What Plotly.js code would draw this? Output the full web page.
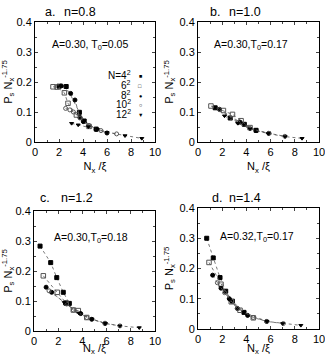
<!DOCTYPE html>
<html>
<head>
<meta charset="utf-8">
<script src="https://cdn.plot.ly/plotly-3.0.1.min.js"></script>
<style>
  body { margin: 0; padding: 0; background: #fff; }
  #plot { width: 325px; height: 356px; }
</style>
</head>
<body>
<div id="plot"></div>
<script>
// lattice sizes shown in the legend
var sizes = ["4", "6", "8", "10", "12"];

// panel a, n=0.8
var a4x = [2.0, 2.6, 3.7, 4.1, 5.1];
var a4y = [0.186, 0.185, 0.099, 0.070, 0.043];
var a6x = [1.5, 1.85, 2.45, 2.75, 3.45, 4.5];
var a6y = [0.184, 0.183, 0.164, 0.129, 0.090, 0.052];
var a8x = [2.2, 2.97, 3.33, 3.75, 4.03, 5.1, 6.0];
var a8y = [0.187, 0.162, 0.140, 0.082, 0.068, 0.042, 0.030];
var a10x = [2.55, 2.9, 3.2, 3.75, 4.5, 5.5, 6.8];
var a10y = [0.112, 0.107, 0.100, 0.080, 0.055, 0.038, 0.027];
var a12x = [3.05, 3.6, 4.45, 5.2, 6.0, 7.5, 8.9];
var a12y = [0.062, 0.057, 0.051, 0.042, 0.032, 0.021, 0.012];

// panel b, n=1.0
var b4x = [1.42, 2.66, 3.83, 4.8];
var b4y = [0.114, 0.080, 0.059, 0.039];
var b6x = [1.07, 2.1, 2.85, 3.56, 4.3];
var b6y = [0.120, 0.105, 0.092, 0.071, 0.048];
var b8x = [1.78, 3.48, 4.8, 5.86];
var b8y = [0.109, 0.066, 0.038, 0.029];
var b10x = [1.78, 3.3, 4.3, 5.86, 7.18];
var b10y = [0.108, 0.065, 0.045, 0.029, 0.019];
var b12x = [2.19, 3.3, 4.3, 5.8, 7.2, 8.6];
var b12y = [0.087, 0.062, 0.044, 0.028, 0.018, 0.012];

// panel c, n=1.2
var c4x = [0.5, 1.38, 1.88, 2.42, 2.92];
var c4y = [0.283, 0.228, 0.178, 0.129, 0.092];
var c6x = [0.77, 1.92, 2.64, 3.25, 3.66, 4.36];
var c6y = [0.184, 0.129, 0.094, 0.070, 0.068, 0.045];
var c8x = [1.0, 1.46, 2.6, 3.86, 4.77, 5.87];
var c8y = [0.146, 0.129, 0.092, 0.058, 0.039, 0.025];
var c10x = [1.24, 2.7, 3.25, 4.36, 5.87, 7.1];
var c10y = [0.134, 0.090, 0.070, 0.045, 0.026, 0.017];
var c12x = [2.5, 3.7, 4.8, 5.9, 7.1, 8.7];
var c12y = [0.095, 0.060, 0.040, 0.025, 0.017, 0.011];

// panel d, n=1.4
var d4x = [0.72, 1.26, 1.82, 2.29, 2.84, 3.8];
var d4y = [0.300, 0.235, 0.170, 0.125, 0.092, 0.055];
var d6x = [0.91, 1.9, 2.75, 3.47, 4.57];
var d6y = [0.220, 0.148, 0.090, 0.062, 0.037];
var d8x = [1.21, 1.9, 2.59, 3.25, 4.1, 5.68];
var d8y = [0.178, 0.135, 0.100, 0.068, 0.045, 0.025];
var d10x = [1.6, 2.2, 3.25, 4.57, 5.68, 7.05];
var d10y = [0.153, 0.120, 0.068, 0.038, 0.025, 0.018];
var d12x = [2.59, 3.8, 5.7, 7.0, 8.5];
var d12y = [0.097, 0.055, 0.025, 0.018, 0.012];

var W = 325, H = 356;
function px(v) { return v / W; }
function py(v) { return 1 - v / H; }

var styles = [
  {symbol: "square", color: "#000", size: 4},
  {symbol: "square-open", color: "#555", size: 4.5},
  {symbol: "circle", color: "#000", size: 4},
  {symbol: "circle-open", color: "#555", size: 4},
  {symbol: "triangle-down", color: "#000", size: 3.5}
];

function series(xs, ys, k, ax) {
  return {
    x: xs, y: ys, type: "scatter", mode: "lines+markers",
    xaxis: "x" + ax, yaxis: "y" + ax, showlegend: false,
    line: {color: "#555", width: 0.8, dash: "dot"},
    marker: {symbol: styles[k].symbol, size: styles[k].size, color: styles[k].color,
             line: {color: styles[k].color, width: 1}}
  };
}

var panels = [
  [[a4x, a4y], [a6x, a6y], [a8x, a8y], [a10x, a10y], [a12x, a12y]],
  [[b4x, b4y], [b6x, b6y], [b8x, b8y], [b10x, b10y], [b12x, b12y]],
  [[c4x, c4y], [c6x, c6y], [c8x, c8y], [c10x, c10y], [c12x, c12y]],
  [[d4x, d4y], [d6x, d6y], [d8x, d8y], [d10x, d10y], [d12x, d12y]]
];

var data = [];
panels.forEach(function (p, i) {
  var ax = i === 0 ? "" : String(i + 1);
  p.forEach(function (s, k) { data.push(series(s[0], s[1], k, ax)); });
});

var font = "Liberation Sans, Arial, sans-serif";

function xax(d0, d1, anchor) {
  return {
    domain: [px(d0), px(d1)], anchor: anchor, range: [0, 10], dtick: 2,
    ticklabeloverflow: "allow",
    ticks: "inside", ticklen: 3, mirror: "ticks", showline: true, linecolor: "#000",
    linewidth: 1, showgrid: false, zeroline: false,
    minor: {dtick: 1, ticks: "inside", ticklen: 2, showgrid: false},
    tickfont: {size: 11, color: "#000"},
    title: {text: "N<sub>x</sub> /ξ", font: {size: 11, color: "#000"}, standoff: 5}
  };
}
function yax(d0, d1, anchor) {
  return {
    domain: [py(d1), py(d0)], anchor: anchor, range: [0, 0.4], dtick: 0.1,
    ticklabeloverflow: "allow",
    ticks: "inside", ticklen: 3, mirror: "ticks", showline: true, linecolor: "#000",
    linewidth: 1, showgrid: false, zeroline: false,
    minor: {dtick: 0.05, ticks: "inside", ticklen: 2, showgrid: false},
    tickfont: {size: 11, color: "#000"},
    title: {text: "P<sub>s</sub> N<sub>x</sub><sup>-1.75</sup>", font: {size: 11, color: "#000"}, standoff: 3}
  };
}

function note(text, x, y, size, anchor) {
  return {text: text, xref: "paper", yref: "paper", x: px(x), y: py(y),
          xanchor: anchor || "center", yanchor: "middle", showarrow: false,
          font: {size: size, color: "#000", family: font}};
}

var ann = [
  note("a.", 50, 12, 12.5), note("n=0.8", 80, 12, 12.5),
  note("b.", 215, 12, 12.5), note("n=1.0", 245, 12, 12.5),
  note("c.", 45, 198, 12.5), note("n=1.2", 77, 198, 12.5),
  note("d.", 217, 198, 12.5), note("n=1.4", 245, 198, 12.5),
  note("A=0.30, T<sub>0</sub>=0.05", 90, 45, 10.5),
  note("A=0.30,T<sub>0</sub>=0.17", 251, 45, 10.5),
  note("A=0.30,T<sub>0</sub>=0.18", 91, 238, 10.5),
  note("A=0.32,T<sub>0</sub>=0.17", 257, 237, 10.5)
];

var glyphs = ["■", "□", "●", "○", "▼"];
sizes.forEach(function (s, k) {
  var label = (k === 0 ? "N=" : "") + s + "<sup>2</sup>";
  ann.push(note(label, 133, 75 + k * 9.8, 10, "right"));
  ann.push(note(glyphs[k], 140, 76 + k * 9.8, 5.5));
});

var layout = {
  width: W, height: H, margin: {l: 0, r: 0, t: 0, b: 0},
  paper_bgcolor: "#fff", plot_bgcolor: "#fff",
  font: {family: font, color: "#000"},
  showlegend: false,
  xaxis: xax(35, 155, "y"), yaxis: yax(22, 142, "x"),
  xaxis2: xax(198, 319, "y2"), yaxis2: yax(22, 142, "x2"),
  xaxis3: xax(34, 155, "y3"), yaxis3: yax(211, 331, "x3"),
  xaxis4: xax(198, 319, "y4"), yaxis4: yax(208, 329, "x4"),
  annotations: ann
};

Plotly.newPlot("plot", data, layout, {displayModeBar: false, staticPlot: true});
</script>
</body>
</html>
